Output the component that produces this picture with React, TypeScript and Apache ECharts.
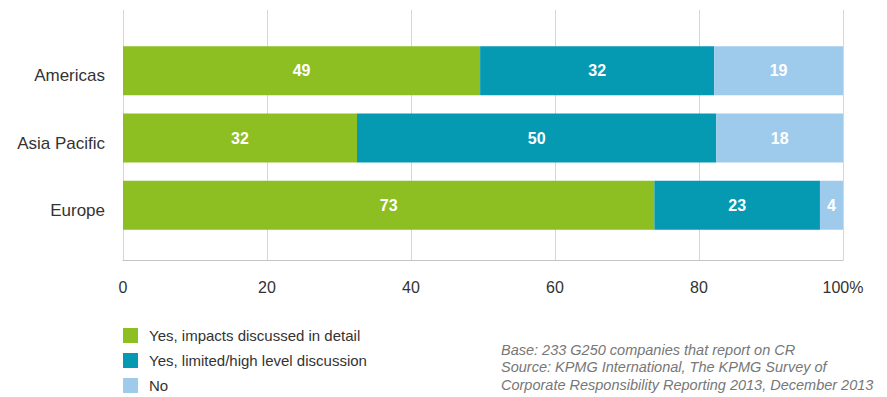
import React, { useEffect, useRef } from "react";
import * as echarts from "echarts";

const categories = ["Americas", "Asia Pacific", "Europe"];
const seriesNames = [
  "Yes, impacts discussed in detail",
  "Yes, limited/high level discussion",
  "No",
];
// bar extents (percent)
const detailValues = [49.6, 32.5, 73.8];
const limitedValues = [32.5, 49.9, 23.0];
const noValues = [17.9, 17.6, 3.2];
// printed labels
const detailLabels = [49, 32, 73];
const limitedLabels = [32, 50, 23];
const noLabels = [19, 18, 4];
const xTicks = [0, 20, 40, 60, 80, 100];
const colors = ["#8dbe22", "#0599b2", "#9ecbec"];
const footnote = [
  "Base: 233 G250 companies that report on CR",
  "Source: KPMG International, The KPMG Survey of",
  "Corporate Responsibility Reporting 2013, December 2013",
];

const FONT = "'Liberation Sans', Arial, sans-serif";

export default function App() {
  const ref = useRef<HTMLDivElement>(null);
  useEffect(() => {
    document.body.style.margin = "0";
    if (!ref.current) return;
    const chart = echarts.init(ref.current, undefined, { renderer: "svg" });
    const valueSets = [detailValues, limitedValues, noValues];
    const labelSets = [detailLabels, limitedLabels, noLabels];
    chart.setOption({
      animation: false,
      textStyle: { fontFamily: FONT },
      grid: [
        { left: 123, right: 44, top: 10, height: 250 },
        { left: 123, right: 44, top: 37, height: 202 },
      ],
      xAxis: [
        {
          gridIndex: 0,
          type: "value",
          min: xTicks[0],
          max: xTicks[xTicks.length - 1],
          interval: 20,
          axisLine: { show: true, lineStyle: { color: "#c4c4c4", width: 1 } },
          axisTick: { show: false },
          splitLine: { show: true, lineStyle: { color: "#d6d6d6", width: 1 } },
          axisLabel: {
            fontSize: 16,
            color: "#333",
            margin: 19,
            fontFamily: FONT,
            formatter: (v: number) => (v === 100 ? "100%" : String(v)),
          },
        },
        {
          gridIndex: 1,
          type: "value",
          min: 0,
          max: 100,
          show: false,
        },
      ],
      yAxis: [
        { gridIndex: 0, type: "value", show: false, min: 0, max: 1 },
        {
          gridIndex: 1,
          type: "category",
          data: categories,
          inverse: true,
          axisLine: { show: false },
          axisTick: { show: false },
          splitLine: { show: false },
          axisLabel: {
            fontSize: 17,
            color: "#333",
            margin: 18,
            fontFamily: FONT,
            verticalAlign: "top",
            lineHeight: 10,
          },
        },
      ],
      legend: {
        orient: "vertical",
        left: 118,
        top: 323,
        height: 90,
        itemWidth: 15,
        itemHeight: 15,
        itemGap: 10,
        icon: "rect",
        data: seriesNames,
        textStyle: { fontSize: 15, color: "#333", fontFamily: FONT, padding: [0, 0, 0, 6] },
      },
      series: seriesNames.map((name, i) => ({
        name,
        type: "bar",
        stack: "total",
        xAxisIndex: 1,
        yAxisIndex: 1,
        barWidth: 49,
        itemStyle: { color: colors[i] },
        data: valueSets[i],
        label: {
          show: true,
          position: "inside",
          color: "#fff",
          fontWeight: "bold",
          fontSize: 16,
          fontFamily: FONT,
          formatter: (p: any) => String(labelSets[i][p.dataIndex]),
        },
      })),
      graphic: footnote.map((t, i) => ({
        type: "text",
        left: 501,
        top: 342 + i * 17.5,
        style: {
          text: t,
          fill: "#777",
          font: `italic 14.5px ${FONT}`,
        },
      })),
    });
    return () => chart.dispose();
  }, []);
  return <div ref={ref} style={{ width: 887, height: 397 }} />;
}
